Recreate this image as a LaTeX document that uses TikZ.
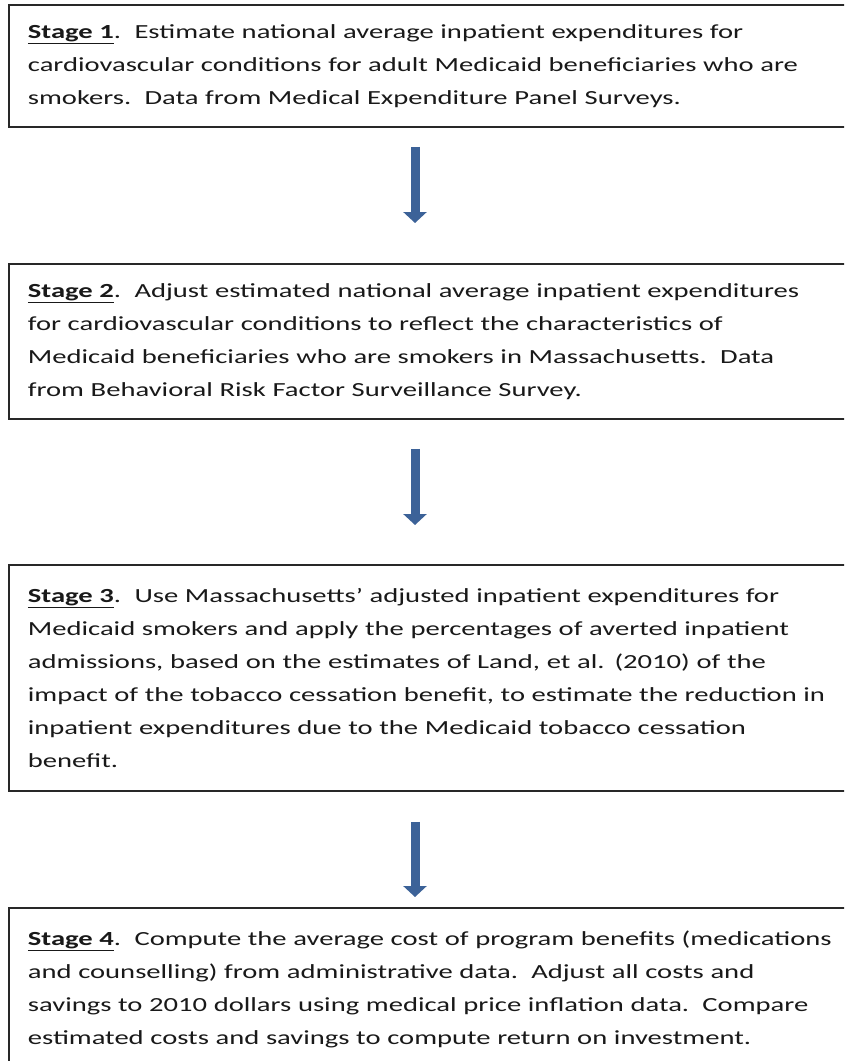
\documentclass[tikz,border=0pt]{standalone}
\usepackage{fontspec}
\setmainfont{Carlito}[FakeStretch=1.43]
\usetikzlibrary{arrows.meta}
\definecolor{arrowblue}{RGB}{60,98,152}
\definecolor{boxline}{RGB}{40,40,40}
\definecolor{txt}{RGB}{25,25,25}
\tikzset{
  stagebox/.style={draw=boxline, line width=1.8pt, anchor=north west,
    inner xsep=19pt, inner ysep=0pt, text width=815pt, align=left,
    minimum width=842pt, text=txt,
    font=\fontsize{20pt}{33pt}\selectfont},
  blockarrow/.style={draw=arrowblue, line width=9pt,
    -{Triangle[width=23pt,length=11pt]}, line cap=butt}
}
\newcommand{\stg}[1]{\underline{\textbf{Stage #1}}}
\begin{document}
\begin{tikzpicture}[x=1pt,y=1pt]
\useasboundingbox (0,0) rectangle (844,-1061);
\clip (0,0) rectangle (844,-1061);
\fill[white] (0,0) rectangle (844,-1061);
\coordinate (ax) at (415,0);
\node[stagebox, minimum height=122pt] (b1) at (8,-4)
 {\stg{1}.\ \ Estimate national average inpatient expenditures for\\
  cardiovascular conditions for adult Medicaid beneficiaries who are\\
  smokers.\ \ Data from Medical Expenditure Panel Surveys.};
\node[stagebox, minimum height=155pt] (b2) at (8,-263)
 {\stg{2}.\ \ Adjust estimated national average inpatient expenditures\\
  for cardiovascular conditions to reflect the characteristics of\\
  Medicaid beneficiaries who are smokers in Massachusetts.\ \ Data\\
  from Behavioral Risk Factor Surveillance Survey.};
\node[stagebox, minimum height=226pt] (b3) at (8,-564)
 {\stg{3}.\ \ Use Massachusetts' adjusted inpatient expenditures for\\
  Medicaid smokers and apply the percentages of averted inpatient\\
  admissions, based on the estimates of Land, et al. (2010) of the\\
  impact of the tobacco cessation benefit, to estimate the reduction in\\
  inpatient expenditures due to the Medicaid tobacco cessation\\
  benefit.};
\node[stagebox, minimum height=162pt] (b4) at (8,-907)
 {\stg{4}.\ \ Compute the average cost of program benefits (medications\\
  and counselling) from administrative data.\ \ Adjust all costs and\\
  savings to 2010 dollars using medical price inflation data.\ \ Compare\\
  estimated costs and savings to compute return on investment.};
\draw[blockarrow, shorten <=19pt, shorten >=40pt] (b1.south -| ax) -- (b2.north -| ax);
\draw[blockarrow, shorten <=29pt, shorten >=39pt] (b2.south -| ax) -- (b3.north -| ax);
\draw[blockarrow, shorten <=30pt, shorten >=10pt] (b3.south -| ax) -- (b4.north -| ax);
\end{tikzpicture}
\end{document}
